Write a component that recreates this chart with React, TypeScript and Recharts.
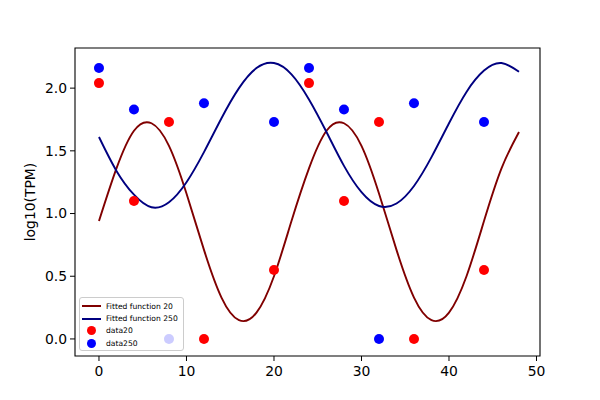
import React from 'react';
import { ComposedChart, Line, Scatter, XAxis, YAxis, ReferenceArea } from 'recharts';

// fitted curves, every 2 hours
const fitHours = [0, 2, 4, 6, 8, 10, 12, 14, 16, 18, 20, 22, 24, 26, 28, 30, 32, 34, 36, 38, 40, 42, 44, 46, 48];
const fit20 = [0.94, 1.36, 1.66, 1.72, 1.54, 1.16, 0.71, 0.33, 0.15, 0.21, 0.5, 0.94, 1.36, 1.66, 1.72, 1.54, 1.16, 0.71, 0.33, 0.15, 0.21, 0.5, 0.94, 1.36, 1.65];
const fit250 = [1.61, 1.34, 1.15, 1.05, 1.09, 1.25, 1.49, 1.76, 2.0, 2.16, 2.2, 2.11, 1.91, 1.65, 1.38, 1.17, 1.06, 1.08, 1.22, 1.45, 1.72, 1.97, 2.14, 2.2, 2.13];

// measured points
const hours20 = [0, 4, 8, 12, 20, 24, 28, 32, 36, 44];
const data20 = [2.04, 1.1, 1.73, 0, 0.55, 2.04, 1.1, 1.73, 0, 0.55];
const hours250 = [0, 4, 8, 12, 20, 24, 28, 32, 36, 44];
const data250 = [2.16, 1.83, 0, 1.88, 1.73, 2.16, 1.83, 0, 1.88, 1.73];

const xTicks = [0, 10, 20, 30, 40, 50];
const yTicks = [0, 0.5, 1.0, 1.5, 2.0];
const xDomain = [-2.74, 50.4];
const yDomain = [-0.136, 2.32];

const fitRows = fitHours.map((x, i) => ({ x, f20: fit20[i], f250: fit250[i] }));
const rows20 = hours20.map((x, i) => ({ x, y: data20[i] }));
const rows250 = hours250.map((x, i) => ({ x, y: data250[i] }));

const font = '"DejaVu Sans", sans-serif';
const tickStyle = { fontSize: 13.9, fill: '#000', fontFamily: font };

const dot = (color: string) => (props: any) => (
  <circle cx={props.cx} cy={props.cy} r={5} fill={color} />
);

const legendItems = [
  { label: 'Fitted function 20', color: '#800000', kind: 'line' },
  { label: 'Fitted function 250', color: '#000080', kind: 'line' },
  { label: 'data20', color: '#ff0000', kind: 'dot' },
  { label: 'data250', color: '#0000ff', kind: 'dot' },
];

const PlotLegend = () => (
  <div
    style={{
      position: 'absolute',
      left: 79,
      top: 297,
      width: 105,
      height: 54,
      boxSizing: 'border-box',
      background: 'rgba(255,255,255,0.8)',
      border: '1px solid #cccccc',
      borderRadius: 3,
      fontFamily: font,
      fontSize: 7.6,
      paddingTop: 2,
      whiteSpace: 'nowrap',
    }}
  >
    {legendItems.map((it) => (
      <div key={it.label} style={{ display: 'flex', alignItems: 'center', height: 12.4 }}>
        <div style={{ width: 20, marginLeft: 1, marginRight: 5, display: 'flex', justifyContent: 'center', flexShrink: 0 }}>
          {it.kind === 'line' ? (
            <div style={{ width: 19, height: 2, background: it.color }} />
          ) : (
            <div style={{ width: 9, height: 9, borderRadius: '50%', background: it.color }} />
          )}
        </div>
        <span>{it.label}</span>
      </div>
    ))}
  </div>
);

export default function App() {
  return (
    <div style={{ position: 'absolute', left: 0, top: 0, width: 600, height: 400, background: '#fff' }}>
      <ComposedChart width={600} height={400} data={fitRows} margin={{ top: 48, right: 60, bottom: 14, left: 0 }}>
        <XAxis
          dataKey="x"
          type="number"
          domain={xDomain}
          ticks={xTicks}
          allowDataOverflow
          height={30}
          tickSize={5}
          tickMargin={5}
          tick={tickStyle}
          axisLine={false}
          tickLine={{ stroke: '#000' }}
        />
        <YAxis
          type="number"
          domain={yDomain}
          ticks={yTicks}
          allowDataOverflow
          width={75}
          tickSize={5}
          tickMargin={3}
          tick={tickStyle}
          tickFormatter={(v: number) => v.toFixed(1)}
          axisLine={false}
          tickLine={{ stroke: '#000' }}
          label={{
            value: 'log10(TPM)',
            angle: -90,
            position: 'insideLeft',
            offset: 30,
            style: { textAnchor: 'middle', fontSize: 13.9, fill: '#000', fontFamily: font },
          }}
        />
        <Scatter data={rows20} dataKey="y" shape={dot('#ff0000')} isAnimationActive={false} />
        <Scatter data={rows250} dataKey="y" shape={dot('#0000ff')} isAnimationActive={false} />
        <Line dataKey="f20" type="natural" stroke="#800000" strokeWidth={1.9} dot={false} activeDot={false} isAnimationActive={false} />
        <Line dataKey="f250" type="natural" stroke="#000080" strokeWidth={1.9} dot={false} activeDot={false} isAnimationActive={false} />
        {/* axes frame */}
        <ReferenceArea
          x1={xDomain[0]}
          x2={xDomain[1]}
          y1={yDomain[0]}
          y2={yDomain[1]}
          fill="none"
          fillOpacity={0}
          stroke="#000"
          strokeWidth={1.1}
          ifOverflow="visible"
        />
      </ComposedChart>
      <PlotLegend />
    </div>
  );
}
